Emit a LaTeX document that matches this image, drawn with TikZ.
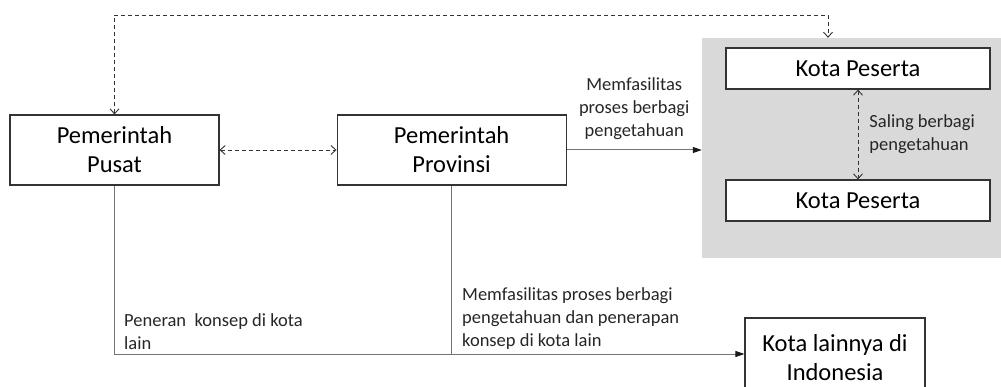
\documentclass[tikz,border=0pt]{standalone}
\usepackage{fontspec}
\setmainfont{Carlito}
\usetikzlibrary{arrows.meta, positioning}

\begin{document}
\begin{tikzpicture}[
        x=1pt, y=-1pt,
        node distance=117pt,
        govbox/.style={rectangle, draw=black!80, line width=1.1pt, fill=white, align=center, font=\fontsize{24.5}{29}\selectfont, minimum height=70pt, inner sep=0pt},
        kotabox/.style={rectangle, draw=black!80, line width=1.1pt, fill=white, align=center, font=\fontsize{24.5}{29}\selectfont, minimum width=264pt, minimum height=41pt, inner sep=0pt},
        lbl/.style={font=\fontsize{18.5}{23}\selectfont, text=black!85, inner sep=2pt},
        line/.style={draw=black!55, line width=1pt},
        arrow/.style={-{Triangle[length=9pt, width=6pt, color=black!90]}, draw=black!55, line width=1pt},
        dasharrow/.style={{Straight Barb[length=5pt, width=9pt]}-{Straight Barb[length=5pt, width=9pt]}, dash pattern=on 4pt off 3pt, draw=black!80, line width=0.9pt}
    ]
    \useasboundingbox (0,0) rectangle (1001,387);

    % The Boxes
    \node (pusat) [govbox, minimum width=209pt] at (114.5,150) {Pemerintah\\Pusat};
    \node (provinsi) [govbox, minimum width=229pt, right=of pusat] {Pemerintah\\Provinsi};

    \node (grup) [rectangle, fill=black!15, minimum width=299pt, minimum height=220pt, inner sep=0pt] at (851.5,148) {};
    \node (peserta1) [kotabox] at (858,68.5) {Kota Peserta};
    \node (peserta2) [kotabox] at (858,200.5) {Kota Peserta};

    \node (lainnya) [govbox, minimum width=180pt, minimum height=80pt] at (835,358) {Kota lainnya di\\Indonesia};

    % The Arrows connecting them
    \coordinate (atas) at (828,15);
    \coordinate (belok) at (451,354);

    \draw [dasharrow] (pusat.north) |- (atas) -- (atas |- grup.north);
    \draw [dasharrow] (pusat) -- (provinsi);
    \draw [dasharrow] (peserta1) -- node[lbl, right=9pt, align=left] {Saling berbagi\\pengetahuan} (peserta2);

    \draw [arrow] (provinsi) -- node[lbl, above=8pt, align=center] {Memfasilitas\\proses berbagi\\pengetahuan} (provinsi -| grup.west);

    \draw [line] (pusat.south) |- (belok);
    \draw [arrow] (provinsi.south -| belok) -- (belok) -- (belok -| lainnya.west);

    % The Labels
    \node (lblpusat) [lbl, anchor=south west, align=left] at (122,352) {Peneran\ \ konsep di kota\\lain};
    \node (lblprovinsi) [lbl, anchor=south west, align=left] at (460,352) {Memfasilitas proses berbagi\\pengetahuan dan penerapan\\konsep di kota lain};

\end{tikzpicture}
\end{document}
